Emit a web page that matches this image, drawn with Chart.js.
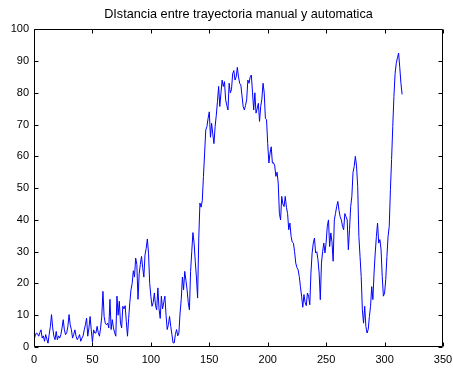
<!DOCTYPE html>
<html>
<head>
<meta charset="utf-8">
<script src="https://cdn.jsdelivr.net/npm/chart.js@4/dist/chart.umd.min.js"></script>
<style>
  html, body { margin: 0; padding: 0; background: #fff; }
  #wrap { width: 453px; height: 373px; }
</style>
</head>
<body>
<div id="wrap"><canvas id="myChart" width="453" height="373"></canvas></div>
<script>
var titulo = 'DIstancia entre trayectoria manual y automatica';
var ticksX = [0, 50, 100, 150, 200, 250, 300, 350];
var ticksY = [0, 10, 20, 30, 40, 50, 60, 70, 80, 90, 100];

// distancia por muestra (muestra 0..315)
var distancia = [
  2.3, 3.5, 4.4, 4.2, 3.4, 4.5, 5.4, 2.8, 3.5, 1.8,
  3.9, 2.5, 1.2, 4, 6.5, 10.2, 6, 3.4, 2.3, 4.9,
  2.3, 3.5, 2.8, 3.9, 6, 8.6, 5.4, 3.9, 4.5, 6.5,
  10.2, 7, 5.4, 2.8, 4, 5.4, 3.4, 2.3, 3, 3.9,
  1.8, 2.8, 3.5, 5.4, 7, 9.1, 3.4, 6, 9.6, 5.4,
  1.5, 5.4, 4.4, 4.4, 6.5, 4.5, 3.4, 6, 9.6, 17.5,
  9.6, 7.5, 7, 7.5, 6, 15, 5.5, 8.6, 6, 4.5,
  3.4, 16, 10, 14.4, 7.5, 6, 12.8, 12, 13, 8,
  3.4, 9, 14, 18, 20, 24, 22, 28, 26, 15,
  23, 26, 28.5, 25, 22, 29, 31, 34, 29.5, 20,
  16, 12.8, 14, 17, 13, 11.7, 18.6, 12, 9, 16,
  12, 14, 16, 10, 5.5, 7, 9.6, 6.5, 4, 1.3,
  1.3, 4, 5.5, 3.5, 4.4, 10.7, 15, 22, 18, 23.8,
  21, 18, 14, 11.7, 23.8, 30, 36, 32.7, 27, 22,
  15.4, 34.3, 45.3, 44, 46, 53.7, 61, 68.3, 69.4, 72,
  74, 66, 70.4, 67, 64, 69.4, 73, 77.3, 82, 75.7,
  80, 84, 82, 83.5, 77.8, 76, 74.6, 83, 80, 81,
  86, 87, 84, 85, 88, 85, 83, 82.5, 79, 75.7,
  74.6, 76, 77.8, 84, 83, 85, 85.6, 80, 74.6, 80,
  73.6, 75, 76.7, 71, 75.7, 78, 83, 80, 72, 71.5,
  64, 57.9, 61, 63, 57.9, 58, 57, 53.7, 55, 51.6,
  42, 40, 47.4, 45, 44.2, 47.4, 44, 42, 36.9, 39,
  34.8, 33, 32.7, 30, 26.4, 25, 24.3, 22.2, 19, 16,
  12.5, 16.5, 14, 13, 17, 16, 13.3, 23.3, 29.6, 32.7,
  34.3, 29.6, 30, 27.5, 23.3, 14.9, 26.4, 30, 32.7, 29.6,
  33, 38, 40, 31.6, 35.9, 33, 27, 40, 42, 44.2,
  45.8, 43, 41, 40, 38, 36.9, 42, 41, 40, 30.6,
  36.9, 44.2, 47.4, 55, 56.8, 60, 57, 50.5, 34.8, 28.5,
  22.2, 11.7, 7.5, 12.8, 6.5, 4.4, 5.5, 9.6, 12.8, 19,
  14.9, 23.3, 29.6, 34.8, 39, 32.7, 33.8, 30.6, 22.2, 16,
  17, 21.2, 28.5, 34.8, 38, 49.5, 59, 69.4, 78.8, 86,
  89.3, 91, 92.5, 88, 83, 79.5
];

var puntos = distancia.map(function (v, i) { return { x: i, y: v }; });

// caja y marcas hacia dentro, como en matlab
var marco = {
  id: 'marco',
  afterDraw: function (chart) {
    var ctx = chart.ctx;
    var a = chart.chartArea;
    var sx = chart.scales.x, sy = chart.scales.y;
    var L = Math.round(a.left) + 0.5, R = Math.round(a.right) - 0.5;
    var T = Math.round(a.top) + 0.5, B = Math.round(a.bottom) - 0.5;
    var len = 4;
    ctx.save();
    ctx.strokeStyle = '#000';
    ctx.lineWidth = 1;
    ctx.beginPath();
    ctx.rect(L, T, R - L, B - T);
    ticksX.forEach(function (t) {
      var px = Math.round(sx.getPixelForValue(t)) + 0.5;
      ctx.moveTo(px, B); ctx.lineTo(px, B - len);
      ctx.moveTo(px, T); ctx.lineTo(px, T + len);
    });
    ticksY.forEach(function (t) {
      var py = Math.round(sy.getPixelForValue(t)) + 0.5;
      ctx.moveTo(L, py); ctx.lineTo(L + len, py);
      ctx.moveTo(R, py); ctx.lineTo(R - len, py);
    });
    ctx.stroke();
    ctx.restore();
  }
};

Chart.defaults.font.family = '"Liberation Sans", Arial, sans-serif';
Chart.defaults.font.size = 11;
Chart.defaults.color = '#000';

const ctx = document.getElementById('myChart').getContext('2d');
const myChart = new Chart(ctx, {
  type: 'line',
  data: {
    datasets: [{
      data: puntos,
      borderColor: '#0000ff',
      borderWidth: 1,
      pointRadius: 0,
      tension: 0,
      fill: false
    }]
  },
  options: {
    responsive: false,
    animation: false,
    layout: { padding: { left: 0, right: 10, top: 0, bottom: 0 } },
    plugins: {
      legend: { display: false },
      tooltip: { enabled: false },
      title: {
        display: true,
        text: titulo,
        fullSize: false,
        color: '#000',
        font: { size: 12.7, weight: 'normal' },
        padding: { top: 7, bottom: 7 }
      }
    },
    scales: {
      x: {
        type: 'linear',
        min: 0,
        max: 350,
        afterBuildTicks: function (s) { s.ticks = ticksX.map(function (v) { return { value: v }; }); },
        afterFit: function (s) { s.height = 26; s.paddingLeft = 0; s.paddingRight = 0; },
        grid: { display: false, drawTicks: false },
        border: { display: false },
        ticks: { padding: 6, maxRotation: 0, autoSkip: false }
      },
      y: {
        min: 0,
        max: 100,
        afterBuildTicks: function (s) { s.ticks = ticksY.map(function (v) { return { value: v }; }); },
        afterFit: function (s) { s.width = 34; s.paddingTop = 0; s.paddingBottom = 0; },
        grid: { display: false, drawTicks: false },
        border: { display: false },
        ticks: { padding: 5, autoSkip: false }
      }
    }
  },
  plugins: [marco]
});
</script>
</body>
</html>
